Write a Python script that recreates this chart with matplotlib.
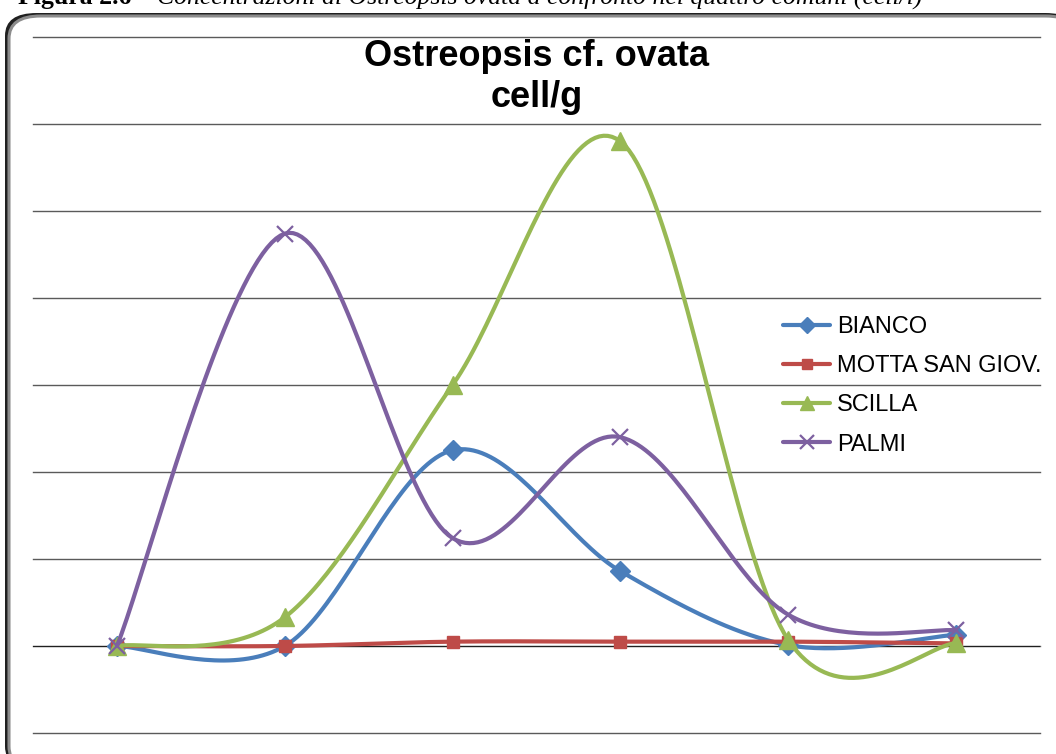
"""Ostreopsis cf. ovata concentrations (cell/g) compared across four sites.

Excel-style smoothed line chart, no axis labels, legend on the right.
"""

import matplotlib

matplotlib.use("Agg")
import matplotlib.pyplot as plt
import numpy as np
from matplotlib.patches import FancyBboxPatch

# --- Data (in grid-line units) --------------------------------------------------------
SAMPLES = ["1", "2", "3", "4", "5", "6"]
BIANCO = [0.0, 0.0, 2.25, 0.86, 0.01, 0.13]
MOTTA = [0.0, 0.0, 0.05, 0.05, 0.05, 0.03]
SCILLA = [0.0, 0.33, 3.00, 5.80, 0.07, 0.03]
PALMI = [0.0, 4.74, 1.24, 2.40, 0.36, 0.18]
SERIES_NAMES = ["BIANCO", "MOTTA SAN GIOV.", "SCILLA", "PALMI"]
Y_TICKS = [-1, 0, 1, 2, 3, 4, 5, 6, 7]

TITLE = "Ostreopsis cf. ovata\ncell/g"
CAPTION_BOLD = "Figura 2.6 – "
CAPTION_ITALIC = "Concentrazioni di Ostreopsis ovata a confronto nei quattro comuni (cell/l)"

# Excel 2007 default palette + markers
STYLES = [
    {"color": "#4A7EBB", "marker": "D", "ms": 10, "mew": 1.0},
    {"color": "#BE4B48", "marker": "s", "ms": 9, "mew": 1.0},
    {"color": "#98B954", "marker": "^", "ms": 13, "mew": 1.0},
    {"color": "#7D60A0", "marker": "x", "ms": 12, "mew": 1.6},
]

W, H = 1056, 754
STEPS = 40

plt.rcParams["font.family"] = ["Liberation Sans", "DejaVu Sans"]


def smooth(xs, ys, steps=STEPS):
    """Catmull-Rom style cubic Bezier through the points (Excel 'smoothed line')."""
    pts = np.column_stack([xs, ys]).astype(float)
    n = len(pts)
    out = []
    t = np.linspace(0.0, 1.0, steps + 1)[:, None]
    for i in range(n - 1):
        p0 = pts[max(i - 1, 0)]
        p1 = pts[i]
        p2 = pts[i + 1]
        p3 = pts[min(i + 2, n - 1)]
        c1 = p1 + (p2 - p0) / 6.0
        c2 = p2 - (p3 - p1) / 6.0
        seg = ((1 - t) ** 3) * p1 + 3 * ((1 - t) ** 2) * t * c1 + 3 * (1 - t) * t**2 * c2 + t**3 * p2
        out.append(seg if i == 0 else seg[1:])
    curve = np.vstack(out)
    return curve[:, 0], curve[:, 1]


fig = plt.figure(figsize=(W / 100, H / 100), dpi=100)

# chart frame: dark shadow + rounded grey border
shadow = FancyBboxPatch(
    (5 / W, -0.02), 1.02 - 5 / W, 1 - 13 / H + 0.02,
    boxstyle="round,pad=0,rounding_size=0.03", transform=fig.transFigure,
    facecolor="#202020", edgecolor="none", zorder=0,
)
frame = FancyBboxPatch(
    (9 / W, -0.02), 1.02 - 9 / W, 1 - 16 / H + 0.02,
    boxstyle="round,pad=0,rounding_size=0.03", transform=fig.transFigure,
    facecolor="white", edgecolor="#8C8C8C", linewidth=2.2, zorder=0.5,
)
fig.patches.extend([shadow, frame])

ax = fig.add_axes([33 / W, 1 - 733 / H, (1040 - 33) / W, (733 - 37) / H])
ax.set_facecolor("none")
ax.set_zorder(1)

x = np.arange(len(SAMPLES))
for values, name, st in zip([BIANCO, MOTTA, SCILLA, PALMI], SERIES_NAMES, STYLES):
    cx, cy = smooth(x, values)
    ax.plot(
        cx, cy, color=st["color"], linewidth=3.0, label=name,
        marker=st["marker"], markersize=st["ms"], markeredgewidth=st["mew"],
        markerfacecolor=st["color"], markeredgecolor=st["color"],
        markevery=[i * STEPS for i in range(len(SAMPLES))],
        solid_capstyle="round", zorder=3,
    )

ax.set_xlim(-0.5, len(SAMPLES) - 0.5)
ax.set_ylim(Y_TICKS[0], Y_TICKS[-1])
ax.set_yticks(Y_TICKS)
ax.set_xticks([])
ax.tick_params(axis="y", length=0, labelleft=False)
ax.yaxis.grid(True, color="#5A5A5A", linewidth=1.0)
for gl in ax.get_ygridlines():
    gl.set_clip_on(False)
ax.set_axisbelow(True)
ax.axhline(0, color="#202020", linewidth=0.8, zorder=1)
for spine in ax.spines.values():
    spine.set_visible(False)

ax.legend(
    loc="upper left", bbox_to_anchor=(783 / W, 1 - 316 / H),
    bbox_transform=fig.transFigure, frameon=False, fontsize=17,
    handlelength=2.0, handletextpad=0.3, labelspacing=0.73,
    borderpad=0, borderaxespad=0, numpoints=1, markerscale=0.8,
)

fig.text(537 / W, 1 - 77 / H, TITLE, ha="center", va="center",
         fontsize=26, fontweight="bold", linespacing=1.22, zorder=5)

# caption of the source document, cut by the top edge
cap_y = 1 - 4 / H
t1 = fig.text(18 / W, cap_y, CAPTION_BOLD, ha="left", va="baseline",
              family="Liberation Serif", fontweight="bold", fontsize=18.5)
fig.canvas.draw()
bb = t1.get_window_extent()
fig.text(bb.x1 / W, cap_y, CAPTION_ITALIC, ha="left", va="baseline",
         family="Liberation Serif", style="italic", fontsize=18.5)

fig.savefig("out.png", dpi=100)
